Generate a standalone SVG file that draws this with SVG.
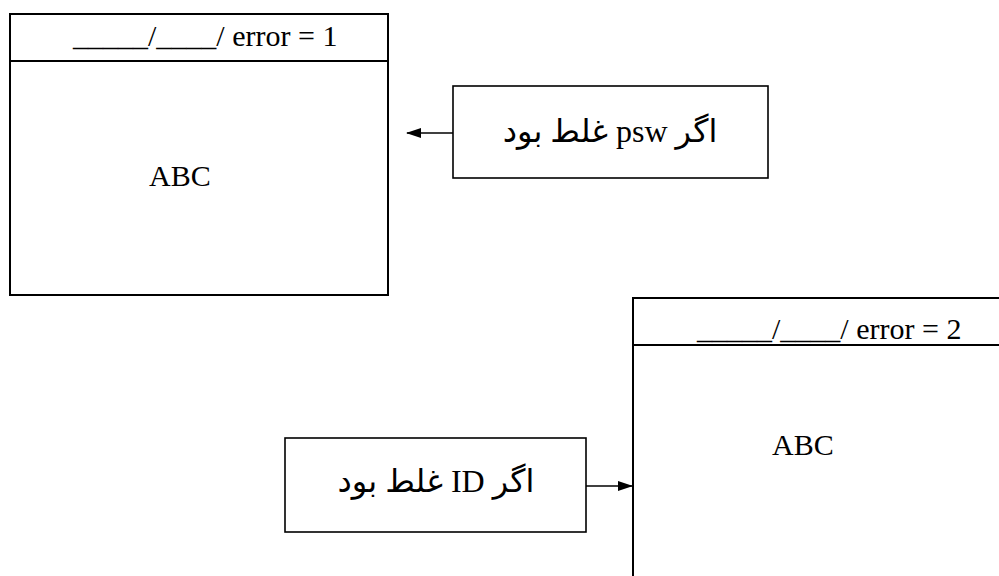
<svg xmlns="http://www.w3.org/2000/svg" width="999" height="576" viewBox="0 0 999 576">
<style>
.box{fill:#fff;stroke:#000;stroke-width:2}
.sbox{fill:#fff;stroke:#000;stroke-width:1.6}
.div{stroke:#000;stroke-width:2}
.t{font-family:"Liberation Serif","Times New Roman","DejaVu Serif",serif;font-size:30px;fill:#000}
.fa{font-family:"Liberation Serif","Times New Roman","DejaVu Sans",serif;font-size:32px;font-weight:normal;fill:#000;direction:rtl;unicode-bidi:embed}
.c{stroke:#000;stroke-width:1.6;fill:none}
</style>
<defs>
<marker id="ah" markerWidth="15" markerHeight="10" refX="14" refY="5" orient="auto" markerUnits="userSpaceOnUse">
<path d="M0,0 L15,5 L0,10 z" fill="#000"/>
</marker>
</defs>
<rect width="999" height="576" fill="#fff"/>
<g id="window1">
<rect class="box" x="10" y="14" width="378" height="281"/>
<line class="div" x1="10" y1="61" x2="388" y2="61"/>
<text class="t" x="73" y="46">_____/____/ error = 1</text>
<text class="t" x="149" y="186">ABC</text>
</g>
<g id="window2">
<rect class="box" x="633" y="298" width="420" height="320"/>
<line class="div" x1="633" y1="345" x2="1010" y2="345"/>
<text class="t" x="697" y="339">_____/____/ error = 2</text>
<text class="t" x="772" y="455">ABC</text>
</g>
<g id="psw">
<rect class="sbox" x="453" y="86" width="315" height="92"/>
<text class="fa" x="610" y="142" text-anchor="middle">اگر psw غلط بود</text>
</g>
<g id="idbox">
<rect class="sbox" x="285" y="438" width="301" height="94"/>
<text class="fa" x="436" y="492" text-anchor="middle">اگر ID غلط بود</text>
</g>
<g id="connectors">
<line class="c" x1="453" y1="133" x2="407" y2="133" marker-end="url(#ah)"/>
<line class="c" x1="586" y1="486" x2="632" y2="486" marker-end="url(#ah)"/>
</g>
</svg>
